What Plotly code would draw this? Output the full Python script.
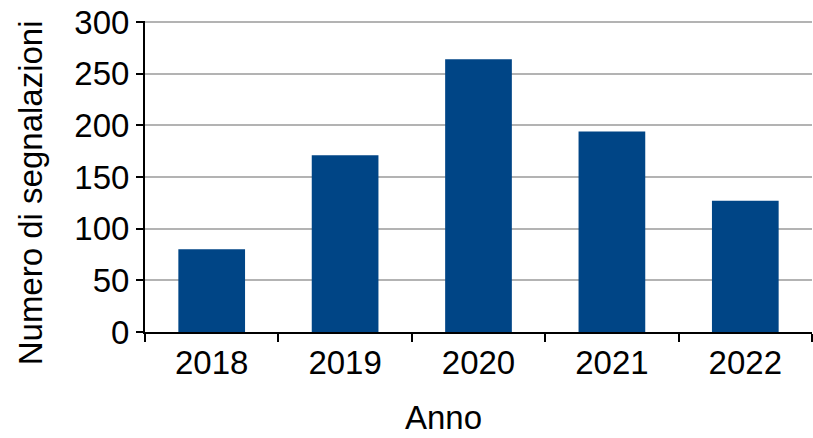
import plotly.graph_objects as go

years = ["2018", "2019", "2020", "2021", "2022"]
counts = [80, 171, 264, 194, 127]
y_ticks = [0, 50, 100, 150, 200, 250, 300]

fig = go.Figure(go.Bar(x=years, y=counts, marker=dict(color="#004586", line=dict(width=0))))

font = dict(family="Liberation Sans, Arial, sans-serif", size=33, color="black")
fig.update_layout(
    width=813, height=438,
    margin=dict(l=145, r=1, t=21, b=106),
    paper_bgcolor="white", plot_bgcolor="white",
    font=font,
    bargap=0.5,
    showlegend=False,
    annotations=[
        dict(text="Anno", xref="paper", yref="paper", x=0.4468, y=-0.2765,
             xanchor="center", yanchor="middle", showarrow=False, font=font),
        dict(text="Numero di segnalazioni", xref="paper", yref="paper", x=-0.1724, y=0.4460,
             xanchor="center", yanchor="middle", textangle=-90, showarrow=False, font=font),
    ],
)
fig.update_xaxes(
    type="category",
    showline=True, linecolor="black", linewidth=2,
    ticks="outside", ticklen=8, tickwidth=2, tickcolor="black",
    tickson="boundaries", showgrid=False,
    tickfont=font, automargin=False,
)
fig.update_yaxes(
    range=[0, 301], tickvals=y_ticks,
    showline=True, linecolor="black", linewidth=2,
    ticks="outside", ticklen=7, tickwidth=2, tickcolor="black",
    showgrid=True, gridcolor="#b3b3b3", gridwidth=1.5,
    zeroline=False, tickfont=font, automargin=False,
    ticklabeloverflow="allow",
)
fig.write_html(
    "out.html",
    config={"displayModeBar": False},
    post_script="document.body.style.margin='0';document.body.style.overflow='hidden';",
)
